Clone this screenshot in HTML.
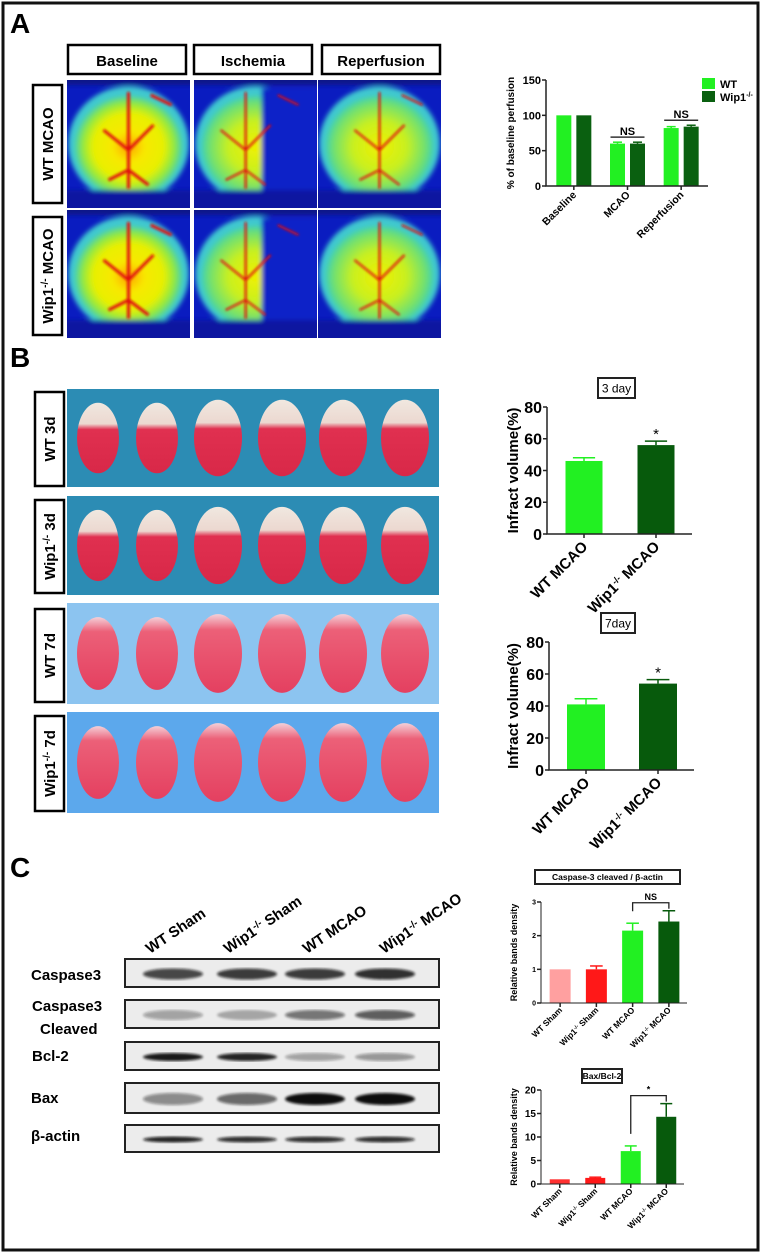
<!DOCTYPE html>
<html><head><meta charset="utf-8"><style>
html,body{margin:0;padding:0;background:#fff;}
svg{display:block;font-family:"Liberation Sans",Arial,sans-serif;}
</style></head><body>
<svg id="fig" width="765" height="1253" viewBox="0 0 765 1253" xmlns="http://www.w3.org/2000/svg">
<defs>
<radialGradient id="heatA" cx="0.5" cy="0.5" r="0.5">
<stop offset="0" stop-color="#ffa000"/><stop offset="0.3" stop-color="#f8e800"/><stop offset="0.65" stop-color="#e8f000"/><stop offset="0.85" stop-color="#90e840"/><stop offset="1" stop-color="#40d0b0"/></radialGradient>
<radialGradient id="heatB" cx="0.5" cy="0.5" r="0.5">
<stop offset="0" stop-color="#f0f000"/><stop offset="0.5" stop-color="#c8f020"/><stop offset="0.85" stop-color="#70e070"/><stop offset="1" stop-color="#40d0b0"/></radialGradient>
<linearGradient id="sliceW" x1="0" y1="0" x2="0" y2="1"><stop offset="0" stop-color="#f0e8e0"/><stop offset="0.3" stop-color="#ecd8d0"/><stop offset="0.38" stop-color="#e03050"/><stop offset="1" stop-color="#d82848"/></linearGradient>
<linearGradient id="slice7" x1="0" y1="0" x2="0" y2="1"><stop offset="0" stop-color="#f4d0d8"/><stop offset="0.2" stop-color="#ec6078"/><stop offset="1" stop-color="#e44060"/></linearGradient>
<filter id="blur1"><feGaussianBlur stdDeviation="2.5"/></filter>
<filter id="blur2"><feGaussianBlur stdDeviation="1.2"/></filter>
</defs>
<rect x="3" y="3" width="755" height="1247" fill="#fff" stroke="#111" stroke-width="3"/>

<!-- Panel A -->
<text x="10" y="33" font-size="28" font-weight="bold">A</text>
<g>
<rect x="68" y="45" width="118" height="29" fill="#fff" stroke="#000" stroke-width="2.5"/>
<text x="127" y="66" font-size="15" font-weight="bold" text-anchor="middle">Baseline</text>
<rect x="194" y="45" width="118" height="29" fill="#fff" stroke="#000" stroke-width="2.5"/>
<text x="253" y="66" font-size="15" font-weight="bold" text-anchor="middle">Ischemia</text>
<rect x="322" y="45" width="118" height="29" fill="#fff" stroke="#000" stroke-width="2.5"/>
<text x="381" y="66" font-size="15" font-weight="bold" text-anchor="middle">Reperfusion</text>
</g>
<g>
<rect x="33" y="85" width="29" height="118" fill="#fff" stroke="#000" stroke-width="2.5"/>
<text transform="translate(53,144) rotate(-90)" font-size="15" font-weight="bold" text-anchor="middle">WT MCAO</text>
<rect x="33" y="217" width="29" height="118" fill="#fff" stroke="#000" stroke-width="2.5"/>
<text transform="translate(53,276) rotate(-90)" font-size="15" font-weight="bold" text-anchor="middle">Wip1<tspan font-size="10" dy="-5">-/-</tspan><tspan dy="5"> MCAO</tspan></text>
</g>
<g id="perfusion"></g>

<!-- Panel B -->
<text x="10" y="367" font-size="28" font-weight="bold">B</text>
<g id="slices"></g>

<!-- Panel C -->
<text x="10" y="877" font-size="28" font-weight="bold">C</text>
<g font-size="15" font-weight="bold">
<text transform="translate(150,954) rotate(-34)">WT Sham</text>
<text transform="translate(228,954) rotate(-34)">Wip1<tspan font-size="10" dy="-5">-/-</tspan><tspan dy="5"> Sham</tspan></text>
<text transform="translate(307,954) rotate(-34)">WT MCAO</text>
<text transform="translate(384,954) rotate(-34)">Wip1<tspan font-size="10" dy="-5">-/-</tspan><tspan dy="5"> MCAO</tspan></text>
</g>
<g id="blots"></g>
<g font-size="15" font-weight="bold">
<text x="31" y="980">Caspase3</text>
<text x="32" y="1011">Caspase3</text>
<text x="40" y="1034">Cleaved</text>
<text x="32" y="1061">Bcl-2</text>
<text x="31" y="1103">Bax</text>
<text x="31" y="1141">β-actin</text>
</g>

<g id="charts"></g>
</svg>
<script>
// ---------- chart data ----------
const catsA = ['Baseline', 'MCAO', 'Reperfusion'];
const wtA = [100, 60, 82];
const koA = [100, 60, 84];
const wtErrA = [0, 2, 2];
const koErrA = [0, 2, 2];
const ticksA = [0, 50, 100, 150];

const catsB = ['WT MCAO', 'Wip1-/- MCAO'];
const day3 = [46, 56];
const day3Err = [2, 2.5];
const day7 = [41, 54];
const day7Err = [3.5, 2.5];
const ticksB = [0, 20, 40, 60, 80];

const catsC = ['WT Sham', 'Wip1-/- Sham', 'WT MCAO', 'Wip1-/- MCAO'];
const casp = [1, 1, 2.15, 2.42];
const caspErr = [0, 0.1, 0.22, 0.32];
const ticksC1 = [0, 1, 2, 3];
const baxBcl = [1, 1.3, 7, 14.3];
const baxBclErr = [0, 0.15, 1.1, 2.8];
const ticksC2 = [0, 5, 10, 15, 20];

const NS = 'http://www.w3.org/2000/svg';
function mk(tag, attrs, parent) {
  const e = document.createElementNS(NS, tag);
  for (const k in attrs) e.setAttribute(k, attrs[k]);
  if (parent) parent.appendChild(e);
  return e;
}
const charts = document.getElementById('charts');

function catLabel(g, txt, x, y, fs) {
  const t = mk('text', {transform: `translate(${x},${y}) rotate(-45)`, 'font-size': fs, 'font-weight': 'bold', 'text-anchor': 'end'}, g);
  
  
  if (txt.indexOf('-/-') >= 0) {
    const p = txt.split('-/-');
    t.appendChild(document.createTextNode(p[0]));
    const s = mk('tspan', {'font-size': fs * 0.6, dy: -fs * 0.35}, t); s.textContent = '-/-';
    const r = mk('tspan', {dy: fs * 0.35}, t); r.textContent = p[1];
  } else t.textContent = txt;
}

function barChart(name, cfg) {
  const g = mk('g', {}, charts);
  
  
  const ys = v => cfg.y0 - (v / cfg.max) * (cfg.y0 - cfg.y1);
  const n = cfg.cats.length;
  const ng = cfg.groups.length;
  const slot = (cfg.x1 - cfg.x0) / n;
  const xc = i => cfg.x0 + slot * (i + 0.5);
  cfg.groups.forEach((grp, gi) => {
    grp.vals.forEach((v, i) => {
      const col = Array.isArray(grp.color) ? grp.color[i] : grp.color;
      const cx = xc(i) + (gi - (ng - 1) / 2) * (cfg.bw + cfg.gap);
      const top = ys(v);
      const e = grp.errs[i];
      if (e > 0) {
        const et = ys(v + e);
        const l = mk('line', {x1: cx, x2: cx, y1: top, y2: et, stroke: col, 'stroke-width': 1.5}, g);
        
        
        const c = mk('line', {x1: cx - cfg.bw * 0.3, x2: cx + cfg.bw * 0.3, y1: et, y2: et, stroke: col, 'stroke-width': 1.5}, g);
        
        
      }
      const r = mk('rect', {x: cx - cfg.bw / 2, y: top, width: cfg.bw, height: cfg.y0 - top, fill: col}, g);
      
      
    });
  });
  const ax = mk('path', {d: `M${cfg.x0 - 1},${cfg.y1} V${cfg.y0} H${cfg.x1}`, fill: 'none', stroke: '#222', 'stroke-width': cfg.aw || 1.5}, g);
  
  
  cfg.ticks.forEach(t => {
    const y = ys(t);
    mk('line', {x1: cfg.x0 - 5, x2: cfg.x0 - 1, y1: y, y2: y, stroke: '#222', 'stroke-width': 1.5}, g);
    const tx = mk('text', {x: cfg.x0 - 6, y: y + cfg.tfs * 0.36, 'font-size': cfg.tfs, 'font-weight': 'bold', 'text-anchor': 'end'}, g);
    
    
    tx.textContent = t;
  });
  for (let i = 0; i < n; i++) {
    mk('line', {x1: xc(i), x2: xc(i), y1: cfg.y0, y2: cfg.y0 + 4, stroke: '#222', 'stroke-width': 1.5}, g);
    catLabel(g, cfg.cats[i], xc(i) + cfg.lfs * 0.3, cfg.y0 + cfg.lfs * 0.9, cfg.lfs);
  }
  const yt = mk('text', {transform: `translate(${cfg.tx},${(cfg.y0 + cfg.y1) / 2}) rotate(-90)`, 'font-size': cfg.yfs, 'font-weight': 'bold', 'text-anchor': 'middle'}, g);
  
  
  yt.textContent = cfg.ytitle;
  return {g, ys, xc, slot};
}

// Chart A
const cA = barChart('perfusion-chart', {x0: 547, x1: 708, y0: 186, y1: 80, max: 150, ticks: ticksA, cats: catsA, bw: 15, gap: 5,
  groups: [{vals: wtA, errs: wtErrA, color: '#22f022'}, {vals: koA, errs: koErrA, color: '#0a6010'}], tfs: 11, lfs: 10.5, yfs: 10, tx: 514, ytitle: '% of baseline perfusion'});
[1, 2].forEach(i => {
  const top = cA.ys(Math.max(wtA[i] + wtErrA[i], koA[i] + koErrA[i])) - 5;
  mk('line', {x1: cA.xc(i) - 17, x2: cA.xc(i) + 17, y1: top, y2: top, stroke: '#333', 'stroke-width': 1.5}, cA.g);
  const t = mk('text', {x: cA.xc(i), y: top - 2, 'font-size': 11, 'font-weight': 'bold', 'text-anchor': 'middle'}, cA.g);
  
  
  t.textContent = 'NS';
});
const legA = mk('g', {}, charts);


mk('rect', {x: 702, y: 78, width: 13, height: 11, fill: '#22f022'}, legA);
mk('rect', {x: 702, y: 91, width: 13, height: 11, fill: '#0a6010'}, legA);
const l1 = mk('text', {x: 720, y: 88, 'font-size': 11, 'font-weight': 'bold'}, legA); l1.textContent = 'WT';
const l2 = mk('text', {x: 720, y: 101, 'font-size': 11, 'font-weight': 'bold'}, legA); l2.innerHTML = 'Wip1<tspan font-size="7" dy="-4">-/-</tspan>';

function titleBox(x, y, w, h, txt, fs, name) {
  const g = mk('g', {}, charts);
  
  
  mk('rect', {x, y, width: w, height: h, fill: '#fff', stroke: '#222', 'stroke-width': 2}, g);
  const t = mk('text', {x: x + w / 2, y: y + h / 2 + fs * 0.36, 'font-size': fs, 'text-anchor': 'middle', 'font-weight': fs < 10 ? 'bold' : 'normal'}, g);
  t.textContent = txt;
}
function starOrNs(c, vals, errs) {
  const y = c.ys(vals[1] + errs[1]) - 4;
  const t = mk('text', {x: c.xc(1), y: y + 2, 'font-size': 15, 'text-anchor': 'middle'}, c.g);
  
  
  t.textContent = '*';
}
titleBox(598, 378, 37, 20, '3 day', 12, 'chart-title-3day');
const cB3 = barChart('infarct-3day-chart', {x0: 548, x1: 692, y0: 534, y1: 407, max: 80, ticks: ticksB, cats: catsB, bw: 37, gap: 0,
  groups: [{vals: day3, errs: day3Err, color: ['#22f022', '#075a0c']}], tfs: 16, lfs: 15, yfs: 15, tx: 518, ytitle: 'Infract volume(%)'});
starOrNs(cB3, day3, day3Err);
titleBox(601, 613, 34, 20, '7day', 12, 'chart-title-7day');
const cB7 = barChart('infarct-7day-chart', {x0: 550, x1: 694, y0: 770, y1: 642, max: 80, ticks: ticksB, cats: catsB, bw: 38, gap: 0,
  groups: [{vals: day7, errs: day7Err, color: ['#22f022', '#075a0c']}], tfs: 16, lfs: 15, yfs: 15, tx: 518, ytitle: 'Infract volume(%)'});
starOrNs(cB7, day7, day7Err);

const colsC = ['#ffa0a0', '#ff1818', '#22f022', '#075a0c'];
titleBox(535, 870, 145, 14, 'Caspase-3 cleaved / β-actin', 8.5, 'chart-title-caspase');
const cC1 = barChart('caspase-chart', {x0: 542, x1: 687, y0: 1003, y1: 902, max: 3, ticks: ticksC1, cats: catsC, bw: 21, gap: 0,
  groups: [{vals: casp, errs: caspErr, color: colsC}], tfs: 7, lfs: 8.5, yfs: 9, tx: 517, ytitle: 'Relative bands density', aw: 1});
titleBox(582, 1069, 40, 14, 'Bax/Bcl-2', 8.5, 'chart-title-bax');
const cC2 = barChart('bax-bcl2-chart', {x0: 542, x1: 684, y0: 1184, y1: 1090, max: 20, ticks: ticksC2, cats: catsC, bw: 20, gap: 0,
  groups: [{vals: baxBcl, errs: baxBclErr, color: ['#ff3030', '#ff1818', '#22f022', '#075a0c']}], tfs: 10, lfs: 8.5, yfs: 9, tx: 517, ytitle: 'Relative bands density', aw: 1});
function bracket(c, vals, errs, label, fs) {
  const top = c.ys(Math.max(vals[2] + errs[2], vals[3] + errs[3])) - 8;
  const p = mk('path', {d: `M${c.xc(2)},${c.ys(vals[2] + errs[2]) - 12} V${top} H${c.xc(3)} V${c.ys(vals[3] + errs[3]) - 2}`, fill: 'none', stroke: '#222', 'stroke-width': 1.3}, c.g);
  
  
  const t = mk('text', {x: (c.xc(2) + c.xc(3)) / 2, y: top - 3, 'font-size': fs, 'font-weight': 'bold', 'text-anchor': 'middle'}, c.g);
  
  
  t.textContent = label;
}
bracket(cC1, casp, caspErr, 'NS', 9);
bracket(cC2, baxBcl, baxBclErr, '*', 9);

// ---------- perfusion images ----------
const perf = document.getElementById('perfusion');
const defs = document.querySelector('defs');
const colsX = [67, 194, 318];
const rowsY = [80, 210];
let clipN = 0;
rowsY.forEach((ry, r) => colsX.forEach((cx, c) => {
  const w = 123, h = 128;
  const cp = mk('clipPath', {id: 'pc' + clipN}, defs);
  mk('rect', {x: cx, y: ry, width: w, height: h}, cp);
  const g = mk('g', {'clip-path': `url(#pc${clipN})`}, perf);
  clipN++;
  
  
  mk('rect', {x: cx, y: ry, width: w, height: h, fill: '#0a1cc0'}, g);
  const inner = mk('g', {filter: 'url(#blur1)'}, g);
  mk('ellipse', {cx: cx + w / 2, cy: ry + h * 0.5, rx: w * 0.49, ry: h * 0.45, fill: '#40c8d0'}, inner);
  mk('ellipse', {cx: cx + w / 2, cy: ry + h * 0.52, rx: w * 0.44, ry: h * 0.4, fill: c === 0 ? 'url(#heatA)' : 'url(#heatB)'}, inner);
  if (c === 1) mk('rect', {x: cx + w * 0.55, y: ry + 8, width: w * 0.45, height: h, fill: '#0c22c8'}, inner);
  mk('rect', {x: cx - 5, y: ry + h * 0.86, width: w + 10, height: h * 0.2, fill: '#0818a0'}, inner);
  mk('rect', {x: cx - 5, y: ry - 5, width: w + 10, height: 10, fill: '#0a1488'}, inner);
  const vein = mk('g', {stroke: '#e01010', 'stroke-width': c === 0 ? 3 : 2, fill: 'none', filter: 'url(#blur2)'}, g);
  const mx = cx + w * (c === 1 ? 0.42 : 0.5);
  mk('path', {d: `M${mx},${ry + 12} V${ry + h * 0.85} M${mx - 25},${ry + 50} L${mx},${ry + 70} L${mx + 25},${ry + 45} M${mx - 20},${ry + 100} L${mx},${ry + 90} L${mx + 20},${ry + 105} M${cx + w * 0.68},${ry + 15} L${cx + w * 0.85},${ry + 25}`}, vein);
}));

// ---------- brain slices ----------
const sl = document.getElementById('slices');
const strips = [
  {y: 389, h: 98, bg: '#2c8cb4', label: 'WT 3d', ly: 392, lh: 94, fill: 'url(#sliceW)'},
  {y: 496, h: 99, bg: '#2c8cb4', label: 'Wip1-/- 3d', ly: 500, lh: 93, fill: 'url(#sliceW)'},
  {y: 603, h: 101, bg: '#8cc4f0', label: 'WT 7d', ly: 609, lh: 93, fill: 'url(#slice7)'},
  {y: 712, h: 101, bg: '#5ca8ec', label: 'Wip1-/- 7d', ly: 716, lh: 95, fill: 'url(#slice7)'}
];
const sliceX = [98, 157, 218, 282, 343, 405];
strips.forEach(s => {
  const g = mk('g', {}, sl);
  
  
  mk('rect', {x: 67, y: s.y, width: 372, height: s.h, fill: s.bg}, g);
  sliceX.forEach((x, i) => {
    const e = mk('ellipse', {cx: x, cy: s.y + s.h / 2, rx: 21 + (i > 1 ? 3 : 0), ry: s.h * 0.36 + (i > 1 ? 3 : 0), fill: s.fill}, g);
    
    
  });
  mk('rect', {x: 35, y: s.ly, width: 29, height: s.lh, fill: '#fff', stroke: '#000', 'stroke-width': 2.5}, g);
  const t = mk('text', {transform: `translate(55,${s.ly + s.lh / 2}) rotate(-90)`, 'font-size': 15, 'font-weight': 'bold', 'text-anchor': 'middle'}, g);
  
  
  if (s.label.indexOf('-/-') >= 0) t.innerHTML = 'Wip1<tspan font-size="10" dy="-5">-/-</tspan><tspan dy="5">' + s.label.split('-/-')[1] + '</tspan>';
  else t.textContent = s.label;
});

// ---------- blots ----------
const bl = document.getElementById('blots');
const blotRows = [
  {y: 959, h: 28, int: [0.75, 0.8, 0.8, 0.85], bh: 9, name: 'caspase3'},
  {y: 1000, h: 28, int: [0.35, 0.3, 0.55, 0.65], bh: 8, name: 'caspase3-cleaved'},
  {y: 1042, h: 28, int: [0.95, 0.9, 0.35, 0.4], bh: 6, name: 'bcl2'},
  {y: 1083, h: 30, int: [0.45, 0.6, 1, 1], bh: 10, name: 'bax'},
  {y: 1125, h: 27, int: [0.9, 0.85, 0.85, 0.85], bh: 4, name: 'beta-actin'}
];
const laneX = [173, 247, 315, 385];
blotRows.forEach(b => {
  const g = mk('g', {}, bl);
  
  
  mk('rect', {x: 125, y: b.y, width: 314, height: b.h, fill: '#ececec', stroke: '#222', 'stroke-width': 2}, g);
  const bands = mk('g', {filter: 'url(#blur2)'}, g);
  laneX.forEach((x, i) => {
    mk('ellipse', {cx: x, cy: b.y + b.h / 2 + 1, rx: 30, ry: b.bh / 2 + 1, fill: '#111', 'fill-opacity': b.int[i]}, bands);
  });
});
</script>
</body></html>
